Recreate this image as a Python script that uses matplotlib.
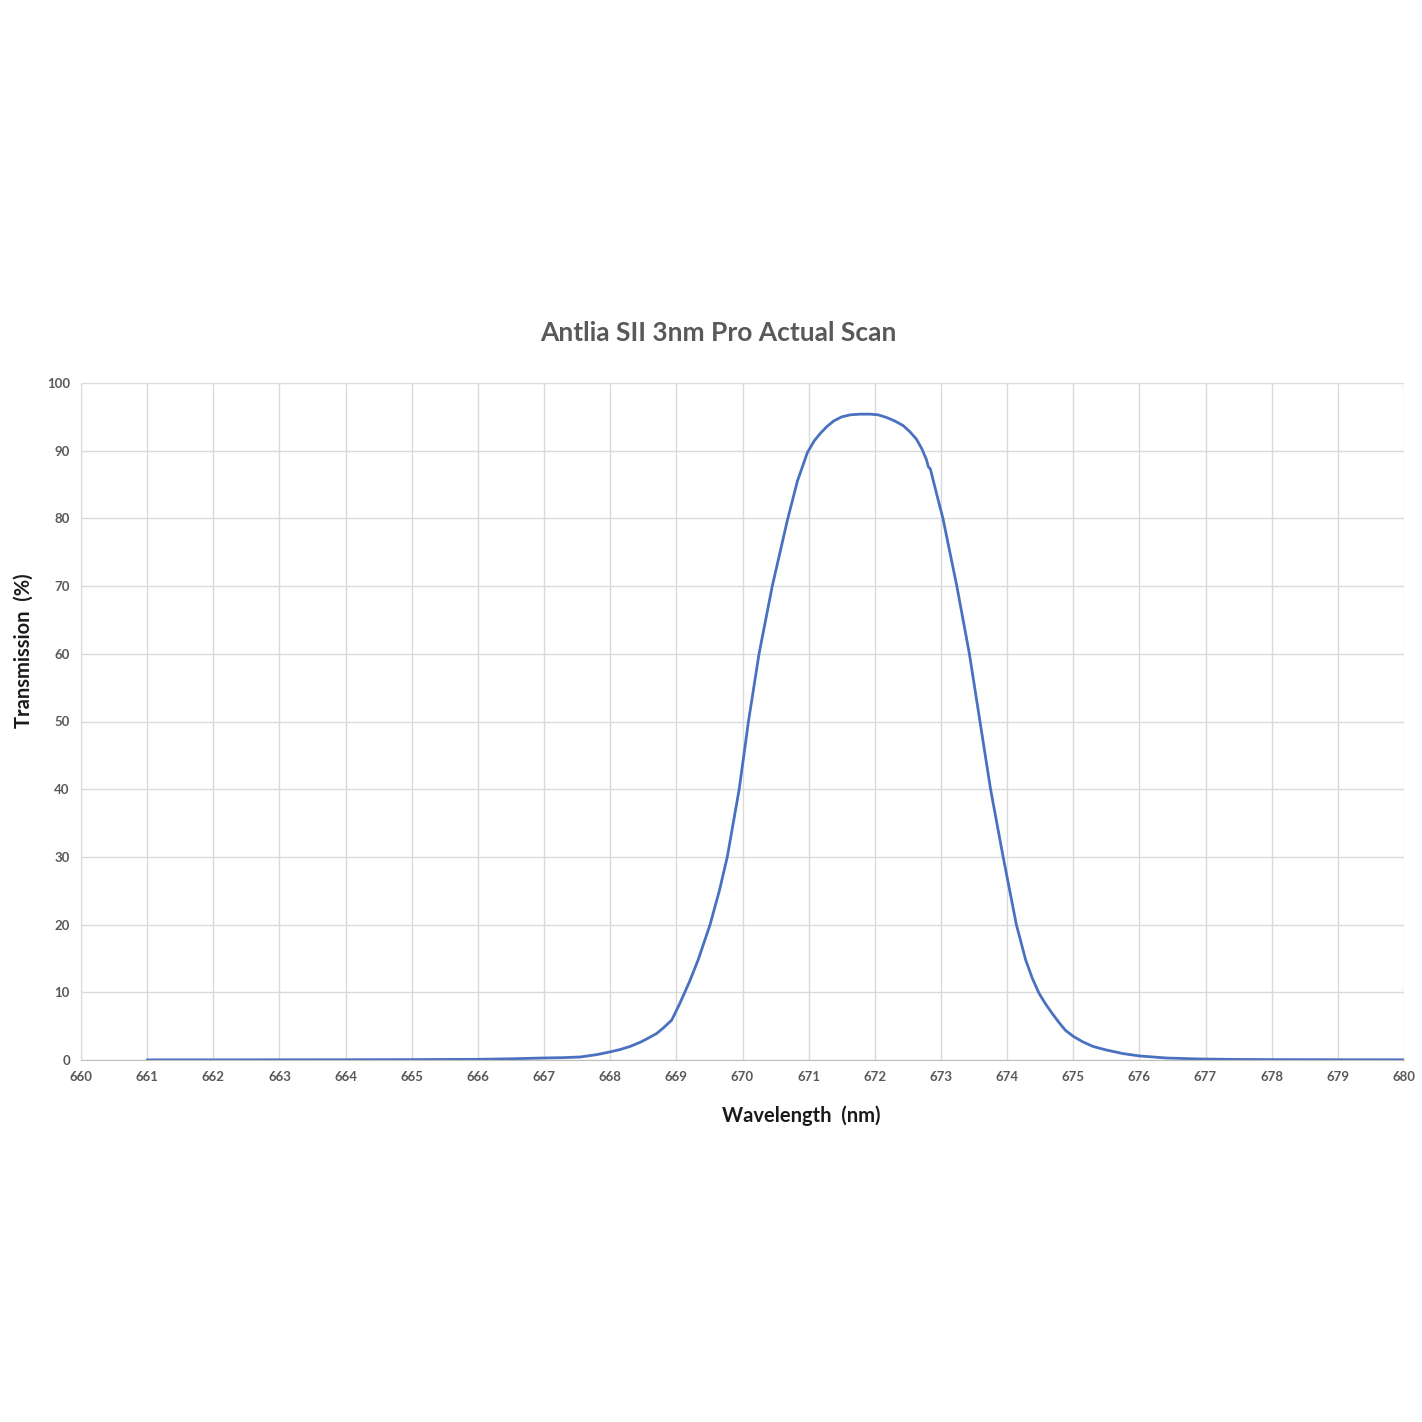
import matplotlib
matplotlib.use("Agg")
import matplotlib.pyplot as plt

wavelength = [661, 662, 663, 664, 665, 666, 666.5, 667, 667.3, 667.55, 667.8, 668.0, 668.15,
              668.3, 668.45, 668.55, 668.7, 668.8, 668.93, 669.05, 669.2, 669.33, 669.51,
              669.65, 669.77, 669.95, 670.09, 670.25, 670.45, 670.68, 670.83, 670.98, 671.08,
              671.18, 671.28, 671.38, 671.5, 671.63, 671.78, 671.93, 672.05, 672.18, 672.3,
              672.43, 672.53, 672.63, 672.71, 672.78, 672.81, 672.84, 672.93, 673.03, 673.24,
              673.43, 673.59, 673.75, 673.94, 674.14, 674.28, 674.38, 674.48, 674.58, 674.68,
              674.78, 674.88, 675.0, 675.14, 675.3, 675.49, 675.75, 676.0, 676.4, 676.9,
              677.5, 678, 679, 680]
transmission = [0.02, 0.02, 0.03, 0.04, 0.06, 0.1, 0.18, 0.3, 0.35, 0.45, 0.8, 1.2, 1.55,
                 2.0, 2.6, 3.1, 3.9, 4.7, 5.9, 8.3, 11.6, 14.8, 20,
                 25, 30, 40, 50, 60, 70, 79.8, 85.5, 89.7, 91.4,
                 92.6, 93.6, 94.4, 95.0, 95.3, 95.4, 95.4, 95.3, 94.9, 94.4,
                 93.7, 92.8, 91.7, 90.3, 88.7, 87.6, 87.3, 83.8, 80, 70,
                 60, 50, 40, 30, 20, 14.8, 12.1, 9.9, 8.3, 6.9,
                 5.6, 4.4, 3.5, 2.7, 2.0, 1.5, 0.95, 0.6, 0.3, 0.15,
                 0.08, 0.06, 0.04, 0.03]
x_ticks = list(range(660, 681))
y_ticks = list(range(0, 101, 10))

title = "Antlia SII 3nm Pro Actual Scan"
xlabel = "Wavelength  (nm)"
ylabel = "Transmission  (%)"

plt.rcParams['font.family'] = ['Lato', 'DejaVu Sans']

fig = plt.figure(figsize=(14.22, 14.22), dpi=100)
ax = fig.add_axes([81/1422, 1 - 1060/1422, (1404-81)/1422, (1060-383)/1422])

ax.plot(wavelength, transmission, color='#4a70c0', linewidth=2.0,
        solid_joinstyle='round', solid_capstyle='round')

ax.set_xlim(660, 680)
ax.set_ylim(0, 100)
ax.set_xticks(x_ticks)
ax.set_yticks(y_ticks)
ax.grid(True, color='#dadada', linewidth=1.0)
ax.set_axisbelow(True)
ax.tick_params(length=0, labelsize=9.5, labelcolor='#595959', pad=8)
for lbl in ax.get_xticklabels() + ax.get_yticklabels():
    lbl.set_fontweight('bold')

for s in ['top', 'right']:
    ax.spines[s].set_visible(False)
ax.spines['left'].set_color('#dadada')
ax.spines['bottom'].set_color('#bfbfbf')

fig.text(718/1422, 1 - 333/1422, title, ha='center', va='center', fontsize=19,
         fontweight='bold', color='#595959')

ax.set_xlabel(xlabel, fontsize=14.5, fontweight='bold', color='#1a1a1a', va='center')
ax.xaxis.set_label_coords((801-81)/(1404-81), -(1116-1060)/(1060-383))
ax.set_ylabel(ylabel, fontsize=14.5, fontweight='bold', color='#1a1a1a', va='center')
ax.yaxis.set_label_coords(-(81-24)/(1404-81), (1060-651)/(1060-383))

fig.savefig("out.png", dpi=100, facecolor='white')
